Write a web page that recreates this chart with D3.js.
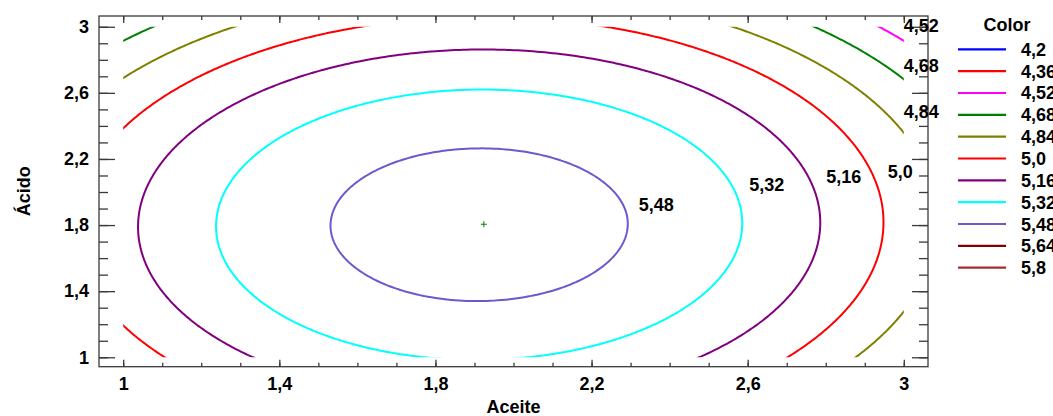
<!DOCTYPE html>
<html>
<head>
<meta charset="utf-8">
<script src="https://cdn.jsdelivr.net/npm/d3@7"></script>
<style>
  body { margin: 0; background: #fff; }
  svg { display: block; font-family: "Liberation Sans", Arial, sans-serif; font-weight: bold; }
</style>
</head>
<body>
<script>
// contour levels and their colours (legend "Color")
const levels = [4.2, 4.36, 4.52, 4.68, 4.84, 5.0, 5.16, 5.32, 5.48, 5.64, 5.8];
const levelLabels = ['4,2', '4,36', '4,52', '4,68', '4,84', '5,0', '5,16', '5,32', '5,48', '5,64', '5,8'];
const levelColors = ['#0000ff', '#ff0000', '#ff00ff', '#008000', '#808000', '#ff0000',
    '#800080', '#00ffff', '#6a5acd', '#800000', '#a52a2a'];

// fitted response surface:
// Color = peak - a*(x-x0)^2 - b*(y-y0)^2 - c*(x-x0)*(y-y0)
const surfaceCenter = [1.912, 1.802];
const surfacePeak = 5.555;
const surfaceCoef = [0.5172, 0.3513, -0.01];

// contour labels (level, Aceite, Ácido)
const labelLevels = ['4,52', '4,68', '4,84', '5,0', '5,16', '5,32', '5,48'];
const labelAceite = [3.045, 3.045, 3.045, 2.991, 2.846, 2.649, 2.366];
const labelAcido = [3.007, 2.768, 2.487, 2.127, 2.091, 2.048, 1.927];

// optimum marker
const optimum = [1.924, 1.805];

// axis ticks
const majorTicks = [1, 1.4, 1.8, 2.2, 2.6, 3];
const tickLabels = ['1', '1,4', '1,8', '2,2', '2,6', '3'];
const minorTicks = [1, 1.1, 1.2, 1.3, 1.4, 1.5, 1.6, 1.7, 1.8, 1.9, 2, 2.1, 2.2, 2.3, 2.4, 2.5, 2.6, 2.7, 2.8, 2.9, 3];

const width = 1053, height = 416;
const plotLeft = 99, plotRight = 928, plotTop = 16, plotBottom = 366.7;

const svg = d3.select('body').append('svg').attr('width', width).attr('height', height);

const x = d3.scaleLinear().domain([0.938, 3.062]).range([plotLeft, plotRight]);
const y = d3.scaleLinear().domain([0.943, 3.065]).range([plotBottom, plotTop]);

// evaluate surface on a grid a bit larger than the data range
const g0 = 0.7, step = 0.01, n = 261;
const values = new Array(n * n);
for (let j = 0; j < n; j++) {
    for (let i = 0; i < n; i++) {
        const dx = g0 + i * step - surfaceCenter[0];
        const dy = g0 + j * step - surfaceCenter[1];
        values[j * n + i] = surfacePeak - surfaceCoef[0] * dx * dx
            - surfaceCoef[1] * dy * dy - surfaceCoef[2] * dx * dy;
    }
}
const contours = d3.contours().size([n, n]).thresholds(levels)(values);

const toPixels = d3.geoTransform({
    point: function (cx, cy) {
        this.stream.point(x(g0 + (cx - 0.5) * step), y(g0 + (cy - 0.5) * step));
    },
});
const path = d3.geoPath(toPixels);

svg.append('clipPath').attr('id', 'data-clip')
    .append('rect')
    .attr('x', x(1)).attr('y', y(3))
    .attr('width', x(3) - x(1)).attr('height', y(1) - y(3));

svg.append('g')
    .attr('clip-path', 'url(#data-clip)')
    .selectAll('path')
    .data(contours)
    .join('path')
    .attr('d', path)
    .attr('fill', 'none')
    .attr('stroke', (d) => levelColors[levels.indexOf(d.value)])
    .attr('stroke-width', 2)
    .attr('stroke-linejoin', 'round');

// optimum marker
svg.append('path')
    .attr('d', `M${x(optimum[0]) - 3},${y(optimum[1])}h6M${x(optimum[0])},${y(optimum[1]) - 3}v6`)
    .attr('stroke', '#008000')
    .attr('stroke-width', 1);

// axes: ticks point inward on all four sides
const axisColor = '#3a3a3a';
function styleAxis(g) {
    g.select('.domain').remove();
    g.selectAll('line').attr('stroke', axisColor).attr('stroke-width', 1.3);
    g.selectAll('text').attr('fill', '#000').attr('font-size', 18).attr('font-family', null);
}
const fmt = (d) => tickLabels[majorTicks.indexOf(d)];

svg.append('g').attr('transform', `translate(0,${plotBottom})`)
    .call(d3.axisBottom(x).tickValues(minorTicks).tickSize(-4).tickFormat(''))
    .call(styleAxis);
svg.append('g').attr('transform', `translate(0,${plotBottom})`)
    .call(d3.axisBottom(x).tickValues(majorTicks).tickSize(-7).tickPadding(11).tickFormat(fmt))
    .call(styleAxis);
svg.append('g').attr('transform', `translate(0,${plotTop})`)
    .call(d3.axisTop(x).tickValues(minorTicks).tickSize(-4).tickFormat(''))
    .call(styleAxis);
svg.append('g').attr('transform', `translate(0,${plotTop})`)
    .call(d3.axisTop(x).tickValues(majorTicks).tickSize(-7).tickFormat(''))
    .call(styleAxis);
svg.append('g').attr('transform', `translate(${plotLeft},0)`)
    .call(d3.axisLeft(y).tickValues(minorTicks).tickSize(-9).tickFormat(''))
    .call(styleAxis);
svg.append('g').attr('transform', `translate(${plotLeft},0)`)
    .call(d3.axisLeft(y).tickValues(majorTicks).tickSize(-16).tickPadding(10).tickFormat(fmt))
    .call(styleAxis);
svg.append('g').attr('transform', `translate(${plotRight},0)`)
    .call(d3.axisRight(y).tickValues(minorTicks).tickSize(-9).tickFormat(''))
    .call(styleAxis);
svg.append('g').attr('transform', `translate(${plotRight},0)`)
    .call(d3.axisRight(y).tickValues(majorTicks).tickSize(-16).tickFormat(''))
    .call(styleAxis);

svg.append('rect')
    .attr('x', plotLeft).attr('y', plotTop)
    .attr('width', plotRight - plotLeft).attr('height', plotBottom - plotTop)
    .attr('fill', 'none')
    .attr('stroke', axisColor)
    .attr('stroke-width', 1.3);

// contour labels
svg.append('g')
    .selectAll('text')
    .data(labelLevels)
    .join('text')
    .attr('x', (d, i) => x(labelAceite[i]))
    .attr('y', (d, i) => y(labelAcido[i]))
    .attr('dy', '0.36em')
    .attr('text-anchor', 'middle')
    .attr('font-size', 18)
    .text((d) => d);

// axis titles
svg.append('text')
    .attr('x', (plotLeft + plotRight) / 2)
    .attr('y', 407)
    .attr('dy', '0.36em')
    .attr('text-anchor', 'middle')
    .attr('font-size', 18)
    .text('Aceite');

svg.append('text')
    .attr('transform', `translate(30,${(plotTop + plotBottom) / 2}) rotate(-90)`)
    .attr('text-anchor', 'middle')
    .attr('font-size', 18)
    .text('Ácido');

// legend
const legend = svg.append('g');
legend.append('text')
    .attr('x', 1007)
    .attr('y', 25)
    .attr('dy', '0.36em')
    .attr('text-anchor', 'middle')
    .attr('font-size', 18)
    .text('Color');

const rowY = (i) => 49.3 + i * 21.84;
const rows = legend.selectAll('g.row')
    .data(levels)
    .join('g')
    .attr('class', 'row')
    .attr('transform', (d, i) => `translate(0,${rowY(i)})`);
rows.append('line')
    .attr('x1', 958).attr('x2', 1006)
    .attr('stroke', (d, i) => levelColors[i])
    .attr('stroke-width', 2.2);
rows.append('text')
    .attr('x', 1021)
    .attr('dy', '0.36em')
    .attr('font-size', 18)
    .text((d, i) => levelLabels[i]);
</script>
</body>
</html>
